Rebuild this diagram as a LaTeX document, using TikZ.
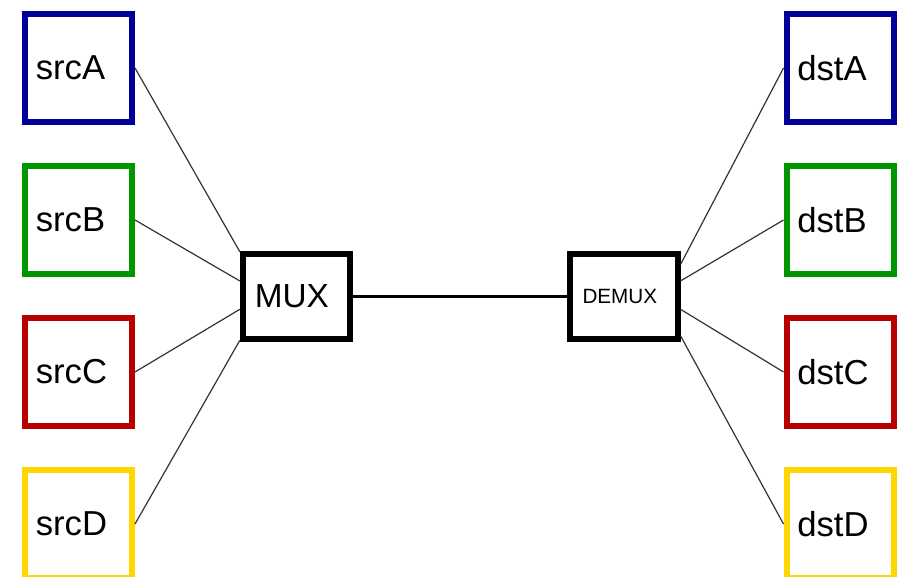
\documentclass[tikz,border=0pt]{standalone}
\usepackage{fontspec}
\setmainfont{Liberation Sans}
\usetikzlibrary{positioning,calc}
\definecolor{chanA}{RGB}{0,0,150}
\definecolor{chanB}{RGB}{0,150,0}
\definecolor{chanC}{RGB}{185,0,0}
\definecolor{chanD}{RGB}{255,214,0}
\tikzset{
  endblk/.style={draw,rectangle,line width=4.5pt,minimum width=80.25pt,minimum height=81pt,
    text width=64pt,inner xsep=8pt,align=left,font=\fontsize{26}{30}\selectfont},
  muxblk/.style={draw,rectangle,line width=4.5pt,minimum width=80.5pt,minimum height=64pt,
    inner xsep=9pt,text width=62.5pt,align=left},
  wire/.style={line width=0.9pt,black!80},
  bus/.style={line width=2.8pt}
}
\begin{document}
\begin{tikzpicture}[x=0.75pt,y=-0.75pt]
  \useasboundingbox (0,0) rectangle (906,577);

  \node[endblk,draw=chanA] (srcA) at (78.5,68) {srcA};
  \node[endblk,draw=chanB,below=28.5pt of srcA] (srcB) {srcB};
  \node[endblk,draw=chanC,below=28.5pt of srcB] (srcC) {srcC};
  \node[endblk,draw=chanD,below=28.5pt of srcC] (srcD) {srcD};

  \node[muxblk,font=\fontsize{25}{30}\selectfont] (mux) at (296.5,296.5) {MUX};
  \node[muxblk,minimum width=81pt,inner xsep=9.75pt,text width=61.5pt,
    font=\fontsize{15.5}{18}\selectfont,right=160pt of mux] (demux) {DEMUX};

  \node[endblk,draw=chanA] (dstA) at (840,68) {dstA};
  \node[endblk,draw=chanB,below=28.5pt of dstA] (dstB) {dstB};
  \node[endblk,draw=chanC,below=28.5pt of dstB] (dstC) {dstC};
  \node[endblk,draw=chanD,below=28.5pt of dstC] (dstD) {dstD};

  \foreach \s/\f in {srcA/0.01, srcB/0.33, srcC/0.64, srcD/0.98}
    \draw[wire] (\s.east) -- ($(mux.north west)!\f!(mux.south west)$);
  \foreach \d/\f in {dstA/0.15, dstB/0.33, dstC/0.64, dstD/0.93}
    \draw[wire] ($(demux.north east)!\f!(demux.south east)$) -- (\d.west);
  \draw[bus] (mux) -- (demux);
\end{tikzpicture}
\end{document}
